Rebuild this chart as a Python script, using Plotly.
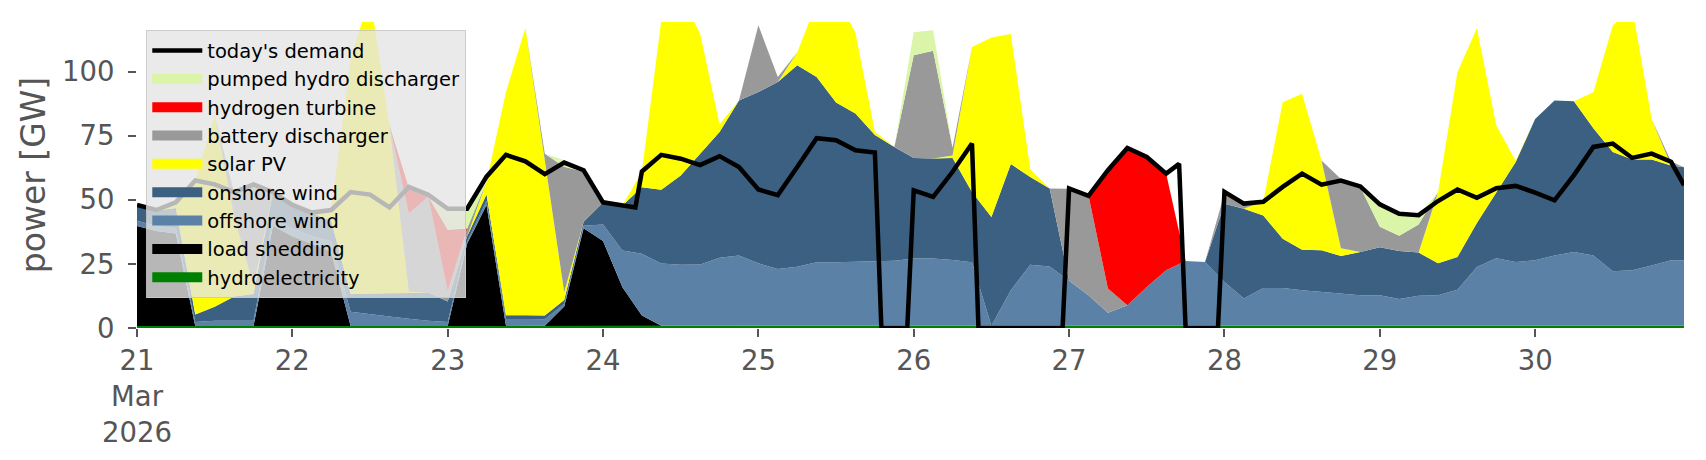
import pandas as pd
import plotly.graph_objects as go

# 3-hourly readings, 21 Mar 2026 00:00 ... 30 Mar 21:00, plus 30 Mar 23:00
times = pd.date_range("2026-03-21 00:00", periods=80, freq="3h").append(
    pd.DatetimeIndex(["2026-03-30 23:00"]))

hydroelectricity = [0.8, 0.8, 0.8, 0.8, 0.8, 0.8, 0.8, 0.8, 0.8, 0.8,
                    0.8, 0.8, 0.8, 0.8, 0.8, 0.8, 0.8, 0.8, 1.0, 1.0,
                    1.0, 0.9, 0.9, 0.9, 0.9, 0.9, 0.9, 0.9, 0.9, 0.9,
                    0.9, 0.9, 1.0, 1.0, 1.0, 1.0, 1.0, 1.0, 1.0, 1.0,
                    1.0, 1.0, 1.0, 1.0, 0.9, 0.9, 0.9, 0.9, 0.9, 0.9,
                    0.9, 0.9, 0.9, 0.9, 0.9, 0.9, 0.9, 0.9, 0.9, 0.9,
                    0.9, 0.9, 0.9, 0.9, 1.0, 1.0, 1.0, 0.9, 0.9, 0.9,
                    0.9, 0.9, 0.9, 0.9, 0.9, 0.9, 0.9, 0.9, 0.9, 0.9, 0.9]

load_shedding = [39, 37, 36, 0, 0, 0, 0, 39, 35, 32,
                 29, 0, 0, 0, 0, 0, 0, 32, 47, 0,
                 0, 0, 7.5, 38, 33, 15, 4, 0, 0, 0,
                 0, 0, 0, 0, 0, 0, 0, 0, 0, 0,
                 0, 0, 0, 0, 0, 0, 0, 0, 0, 0,
                 0, 0, 0, 0, 0, 0, 0, 0, 0, 0,
                 0, 0, 0, 0, 0, 0, 0, 0, 0, 0,
                 0, 0, 0, 0, 0, 0, 0, 0, 0, 0, 0]

offshore_wind = [2, 2, 2, 1.5, 2, 2, 2, 3, 3, 3,
                 4, 5.5, 4.7, 3.7, 2.8, 2, 1.5, 1, 1.5, 2.5,
                 2.5, 2.5, 1, 1, 6.5, 14.3, 24, 24.2, 23.8, 23.9,
                 26.5, 27.4, 24.2, 22, 22.9, 24.6, 24.6, 24.8, 25.2, 25.2,
                 26.1, 26.1, 25.5, 24.6, 0, 13.8, 23.8, 23.1, 17.5, 11.9,
                 5, 8, 15.1, 21.6, 25.2, 24.8, 17, 10.6, 14.7, 14.7,
                 13.8, 13.1, 12.5, 11.9, 11.8, 10.3, 11.6, 11.9, 14, 22.9,
                 26.3, 24.8, 25.5, 27.4, 28.7, 27.4, 21.2, 21.6, 23.5, 25.5, 25.5]

onshore_wind = [6, 6, 8, 3, 5.5, 9.5, 10.5, 10, 9, 9,
                8, 7, 8, 9, 10, 11, 8, 2, 2.5, 1.5,
                1.5, 1.5, 1.5, 1.5, 8.5, 17.6, 26, 28.8, 34.8, 43,
                49, 60.4, 66.8, 72.9, 78.5, 72.3, 62.3, 57.8, 49, 44.4,
                39.2, 39, 39.8, 27.4, 42.4, 49.2, 34.2, 30.4, 0, 0,
                0, 0, 0, 0, 0, 0, 30.5, 35, 28.3, 19.2,
                15.8, 16.3, 14.7, 16.8, 18.7, 18.7, 16.8, 12.4, 12.8, 17.1,
                25.8, 39, 55.1, 60.4, 58.8, 49.6, 46.5, 43.2, 41.3, 37, 36.3]

solar_pv = [0, 0, 3, 52, 74.5, 31.5, 3, 0, 0, 0,
            4, 91.5, 116, 65.5, 0.5, 0, 0, 0, 5, 87,
            112, 60, 3, 0, 0, 0, 6, 66, 70, 47,
            3, 0, 0, 0, 5, 29, 42, 31.4, 1.3, 0,
            0, 0, 1, 56.6, 70, 50.7, 3, 0, 0, 0,
            0, 0, 0, 0, 0, 0, 0, 0, 5.5, 53.2,
            60.8, 35, 3, 0, 0, 0, 0, 27.7, 72, 76,
            25.9, 0.5, 0, 0, 0, 14, 49.3, 59.2, 15.8, 0, 0]

battery_discharger = [0, 0, 0, 0, 0, 9, 40, 0, 0, 0,
                      0, 0, 0, 0, 30.5, 37.5, 4, 3, 0, 0,
                      0, 3, 49, 19.5, 0, 0, 0, 0, 0, 0,
                      0, 0, 26, 2, 0, 0, 0, 0, 0, 0,
                      40, 42, 3, 0, 0, 0, 0, 0, 35.9, 38.9,
                      9.5, 0, 0, 0, 0, 0, 4, 2, 0, 0,
                      0, 0, 27, 25.3, 8, 6, 11, 0, 0, 0,
                      0, 0, 0, 0, 0, 0, 0, 0, 0, 1.5, 0]

hydrogen_turbine = [0, 0, 0, 0, 0, 0, 0, 0, 0, 0,
                    0, 0, 0, 0, 10, 0, 24, 0, 0, 0,
                    0, 0, 0, 0, 0, 0, 0, 0, 0, 0,
                    0, 0, 0, 0, 0, 0, 0, 0, 0, 0,
                    0, 0, 0, 0, 0, 0, 0, 0, 0, 0,
                    46, 61.3, 50.6, 37.6, 0, 0, 0, 0, 0, 0,
                    0, 0, 0, 0, 0, 0, 0, 0, 0, 0,
                    0, 0, 0, 0, 0, 0, 0, 0, 0, 0, 0]

pumped_hydro_discharger = [0, 0, 0, 0, 0, 0, 0, 0, 0, 0,
                           0, 0, 0, 0, 0, 0, 8.5, 8, 0, 0,
                           0, 0, 2.5, 0, 0, 0, 0, 0, 0, 0,
                           0, 0, 0, 0, 0, 0, 0, 0, 0, 0,
                           9, 8, 0, 0, 0, 0, 0, 0, 0, 0,
                           0, 0, 0, 0, 0, 0, 0, 0, 0, 0,
                           0, 0, 0, 0, 8, 8.7, 3.5, 0, 0, 0,
                           0, 0, 0, 0, 0, 0, 0, 0, 0, 0, 0]

demand = [48, 46, 49, 57.5, 56, 53, 56, 53, 48, 45,
          46, 53, 52, 47, 55, 52, 46.5, 46.5, 59, 67.5,
          65, 60, 64.5, 61.5, 49, 48, 61, 67.5, 66, 63.5,
          67, 62.8, 54, 51.8, 62.8, 74, 73.2, 69.3, 68.4, 0,
          53.7, 51.1, 60.9, 71.9, 0, 0, 0, 0, 54.4, 51.5,
          61.5, 70.2, 66.7, 60.2, 0, 0, 53.1, 48.5, 49.2, 55,
          60.2, 55.9, 57.5, 55.2, 48.2, 44.5, 44, 49.5, 54, 50.8,
          54.5, 55.4, 52.8, 49.8, 59.6, 70.6, 71.9, 66.3, 68, 64.8, 55.7]

# additional hourly demand readings around the sharp switches
demand_extra_times = ["2026-03-24 05:00", "2026-03-25 19:00", "2026-03-25 23:00",
                      "2026-03-26 10:00", "2026-03-26 23:00", "2026-03-27 17:00",
                      "2026-03-27 23:00"]
demand_extra = [47, 0, 0, 0, 0, 64, 0]

tick_days = pd.date_range("2026-03-21", periods=10, freq="D")
tick_labels = ["21<br>Mar<br>2026", "22", "23", "24", "25", "26", "27", "28", "29", "30"]

series = [
    ("hydroelectricity", hydroelectricity, "#008000"),
    ("load shedding", load_shedding, "#000000"),
    ("offshore wind", offshore_wind, "#5b82a6"),
    ("onshore wind", onshore_wind, "#3b6081"),
    ("solar PV", solar_pv, "#ffff00"),
    ("battery discharger", battery_discharger, "#999999"),
    ("hydrogen turbine", hydrogen_turbine, "#ff0000"),
    ("pumped hydro discharger", pumped_hydro_discharger, "#daf5a8"),
]

fig = go.Figure()
n = len(series)
for k, (name, vals, col) in enumerate(series):
    fig.add_trace(go.Scatter(
        x=times, y=vals, name=name, mode="lines", stackgroup="gen",
        line=dict(width=0, color=col), fillcolor=col, showlegend=False,
    ))

dem = pd.concat([pd.Series(demand, index=times),
                 pd.Series(demand_extra, index=pd.to_datetime(demand_extra_times))]).sort_index()
fig.add_trace(go.Scatter(
    x=dem.index, y=dem.values, name="today's demand", mode="lines",
    line=dict(color="black", width=4.5), legendrank=0,
))

# legend swatches (patch-like entries) for the stacked areas
for k, (name, vals, col) in enumerate(series):
    fig.add_trace(go.Scatter(
        x=[None], y=[None], name=name, mode="lines",
        line=dict(color=col, width=13), legendrank=n + 1 - k,
    ))

grey = "#555555"
fig.update_layout(
    width=1706, height=460,
    margin=dict(l=137, r=22, t=22, b=132),
    paper_bgcolor="white", plot_bgcolor="white",
    font=dict(family="DejaVu Sans", color=grey),
    showlegend=True,
    legend=dict(
        x=0.006, y=0.973, xanchor="left", yanchor="top",
        bgcolor="rgba(229,229,229,0.8)", bordercolor="rgba(200,200,200,0.9)",
        borderwidth=1, font=dict(size=19.5, color="black", family="DejaVu Sans"),
        itemwidth=50, traceorder="normal",
    ),
    xaxis=dict(
        type="date", range=[times[0], times[-1]], automargin=False,
        tickvals=tick_days, ticktext=tick_labels,
        ticks="outside", ticklen=8, tickwidth=1.5, tickcolor=grey,
        tickfont=dict(size=27.5, color=grey), ticklabelstandoff=0,
        showgrid=False, zeroline=False, showline=False,
    ),
    yaxis=dict(
        range=[0, 119.3], tickvals=[0, 25, 50, 75, 100], automargin=False,
        ticks="outside", ticklen=8, tickwidth=1.5, tickcolor=grey,
        tickfont=dict(size=27.5, color=grey), ticklabelstandoff=8,
        showgrid=False, zeroline=False, showline=False,
        title=dict(text="power [GW]", font=dict(size=33, color=grey), standoff=6),
    ),
)

fig.write_html("out.html", config={"displayModeBar": False},
               post_script="document.body.style.margin='0px';")
